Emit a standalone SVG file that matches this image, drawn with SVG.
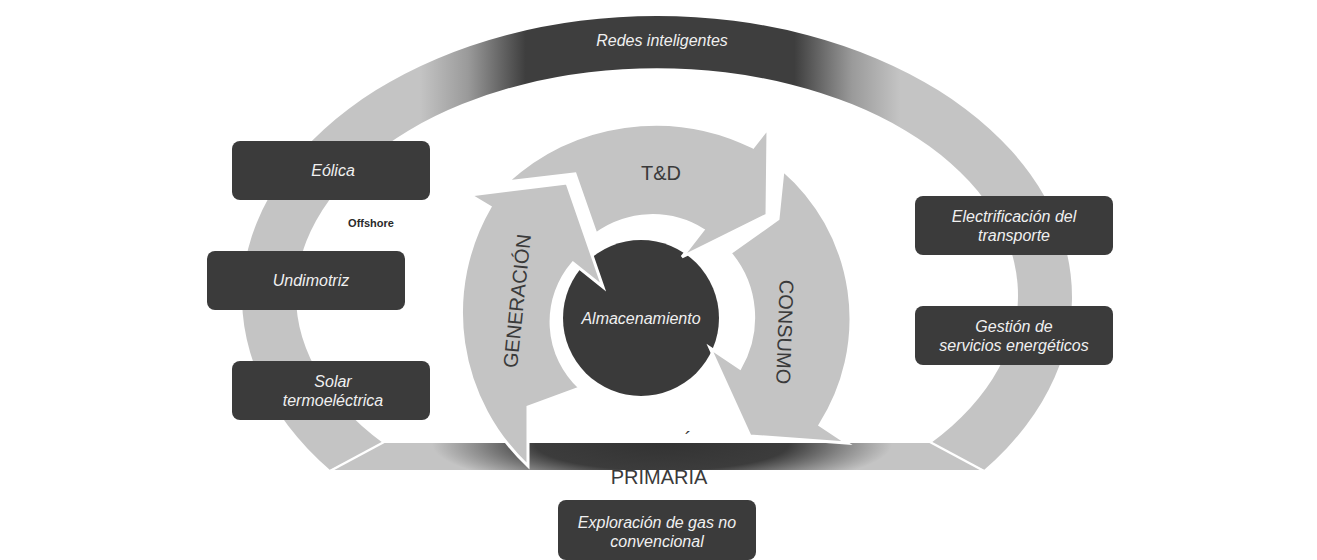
<svg xmlns="http://www.w3.org/2000/svg" width="1317" height="560" viewBox="0 0 1317 560">
<style>
.box{fill:#3b3b3b}
.bt{font-family:"Liberation Sans",Arial,sans-serif;font-style:italic;font-size:16px;fill:#f0f0f0;text-anchor:middle}
.arrow{fill:#c4c4c4;stroke:#ffffff;stroke-width:3;stroke-linejoin:miter}
.lbl{font-family:"Liberation Sans",Arial,sans-serif;font-size:20px;fill:#3a3a3a;text-anchor:middle}
.miter{stroke:#ffffff;stroke-width:2.5;fill:none}
</style>
<defs>
<linearGradient id="ringG" gradientUnits="userSpaceOnUse" x1="420" y1="0" x2="900" y2="0">
<stop offset="0" stop-color="#c4c4c4"/>
<stop offset="0.1" stop-color="#9a9a9a"/>
<stop offset="0.22" stop-color="#3e3e3e"/>
<stop offset="0.78" stop-color="#3e3e3e"/>
<stop offset="0.9" stop-color="#9a9a9a"/>
<stop offset="1" stop-color="#c4c4c4"/>
</linearGradient>
<radialGradient id="barG" gradientUnits="userSpaceOnUse" cx="0" cy="0" r="1" gradientTransform="translate(662 444) scale(230 48)">
<stop offset="0" stop-color="#333333"/>
<stop offset="0.55" stop-color="#3c3c3c"/>
<stop offset="0.8" stop-color="#8a8a8a"/>
<stop offset="1" stop-color="#c4c4c4"/>
</radialGradient>
</defs>
<rect width="1317" height="560" fill="#ffffff"/>

<g id="primaria">
<text class="lbl" x="659" y="484" font-size="21">PRIMARIA</text>
<text class="lbl" x="688" y="446" font-size="16">´</text>
</g>

<g id="redes-inteligentes">
<path d="M 330,470 A 415 281 0 1 1 984,470 L 931,443 A 361 227 0 1 0 383,443 Z" fill="url(#ringG)"/>
<text class="bt" x="662" y="46" fill="#e8e8e8">Redes inteligentes</text>
</g>

<g id="bar">
<path d="M 330,470 L 383,443 L 931,443 L 984,470 Z" fill="url(#barG)"/>
<line class="miter" x1="330" y1="471" x2="384" y2="442"/>
<line class="miter" x1="984" y1="471" x2="930" y2="442"/>
</g>

<g id="almacenamiento">
<circle cx="641" cy="318" r="78" fill="#3a3a3a"/>
</g>

<g id="connectors">
<g id="consumo">
<path class="arrow" d="M 783,170 A 197 197 0 0 1 820,425 L 847,443 L 750,436 L 710,348 L 740,368 A 100 100 0 0 0 730,253 L 778,219 Z"/>
<text class="lbl" transform="translate(785 332) rotate(92)" x="0" y="7">CONSUMO</text>
</g>
<g id="td">
<path class="arrow" d="M 507,182 A 220 220 0 0 1 753,147 L 768,128 L 767,215 L 682,257 L 703,230 A 96 96 0 0 0 596,234 L 575,174 Z"/>
<text class="lbl" x="661" y="180">T&amp;D</text>
</g>
<g id="generacion">
<path class="arrow" d="M 528,466 A 210 210 0 0 1 490,207 L 470,195 L 567,183 L 603,287 L 573,263 A 90 90 0 0 0 580,388 L 528,407 Z"/>
<text class="lbl" transform="translate(517 301) rotate(-84)" x="0" y="7">GENERACIÓN</text>
</g>
</g>

<text class="bt" x="641" y="324">Almacenamiento</text>

<g id="eolica">
<rect class="box" x="232" y="141" width="198" height="59" rx="8"/>
<text class="bt" x="333" y="176">Eólica</text>
</g>
<g id="offshore">
<text x="371" y="227" font-family="'Liberation Sans',Arial,sans-serif" font-size="11" font-weight="bold" fill="#2a2a2a" text-anchor="middle">Offshore</text>
</g>
<g id="undimotriz">
<rect class="box" x="207" y="251" width="198" height="59" rx="8"/>
<text class="bt" x="311" y="286">Undimotriz</text>
</g>
<g id="solar">
<rect class="box" x="232" y="361" width="198" height="59" rx="8"/>
<text class="bt" x="333" y="387">Solar</text>
<text class="bt" x="333" y="406">termoeléctrica</text>
</g>
<g id="electrificacion">
<rect class="box" x="915" y="196" width="198" height="59" rx="8"/>
<text class="bt" x="1014" y="222">Electrificación del</text>
<text class="bt" x="1014" y="241">transporte</text>
</g>
<g id="gestion">
<rect class="box" x="915" y="306" width="198" height="59" rx="8"/>
<text class="bt" x="1014" y="332">Gestión de</text>
<text class="bt" x="1014" y="351">servicios energéticos</text>
</g>
<g id="exploracion">
<rect class="box" x="558" y="500" width="198" height="60" rx="8"/>
<text class="bt" x="657" y="528">Exploración de gas no</text>
<text class="bt" x="657" y="547">convencional</text>
</g>
</svg>
